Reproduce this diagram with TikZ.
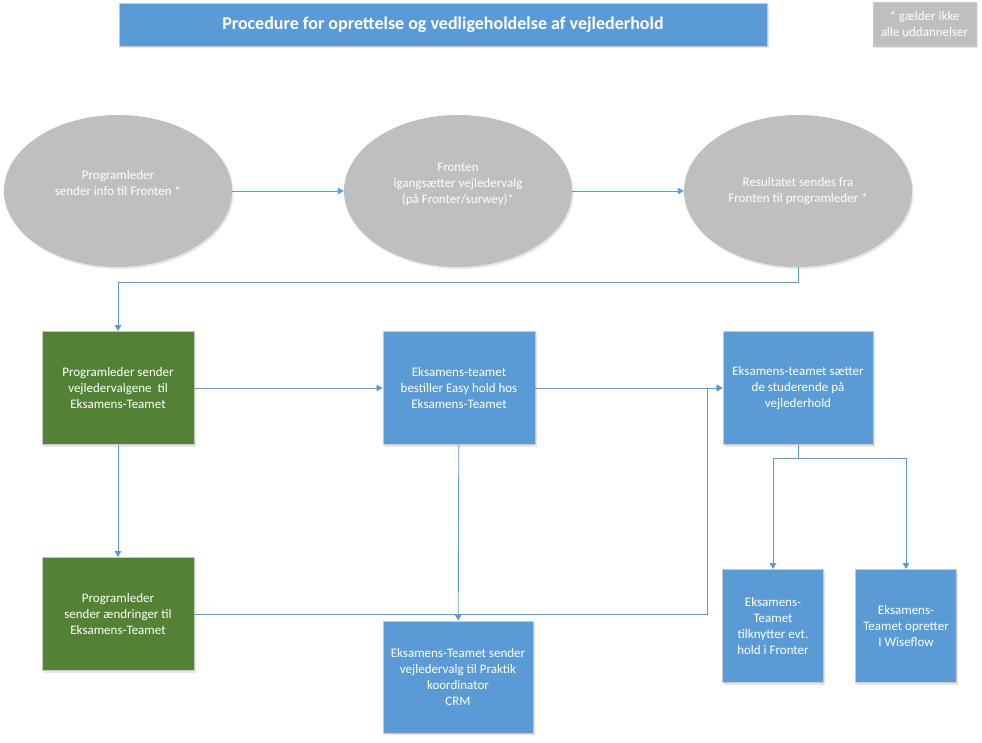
\documentclass[tikz,border=0pt]{standalone}
\usepackage{fontspec}
\setmainfont{Carlito}
\usetikzlibrary{shapes.geometric,arrows.meta,shadows}
\definecolor{boxblue}{HTML}{5B9BD5}
\definecolor{boxgreen}{HTML}{548235}
\definecolor{ovalgray}{HTML}{BFBFBF}
\definecolor{edgegray}{HTML}{C8C8C8}
\begin{document}
\begin{tikzpicture}[x=1pt,y=-1pt,
    font=\fontsize{13}{16}\selectfont,
    shade/.style={drop shadow={opacity=0.2,shadow xshift=1.5pt,shadow yshift=-2pt}},
    oval/.style={ellipse,fill=ovalgray,text=white,minimum width=228pt,minimum height=152pt,inner sep=0pt,align=center,shade},
    card/.style={rectangle,draw=edgegray,line width=0.8pt,text=white,inner sep=0pt,align=center,shade},
    bluebox/.style={card,fill=boxblue},
    greenbox/.style={card,fill=boxgreen,minimum width=152pt,minimum height=113pt},
    flow/.style={draw=boxblue,line width=0.9pt,-{Triangle[width=6.5pt,length=6pt]}}]
    \useasboundingbox (0,0) rectangle (982,742);
    % header
    \node[bluebox,minimum width=648pt,minimum height=43pt,font=\fontsize{18}{22}\selectfont\bfseries] (title) at (443,24.5) {Procedure for oprettelse og vedligeholdelse af vejlederhold};
    \node[card,fill=ovalgray,minimum width=103pt,minimum height=44pt] (note) at (924.5,24) {* gælder ikke\\alle uddannelser};
    % ovals
    \node[oval] (info) at (118,191) {Programleder\\sender info til Fronten *\\ \mbox{}};
    \node[oval] (start) at (458,191) {Fronten\\igangsætter vejledervalg\\(på Fronter/surwey)*\\ \mbox{}};
    \node[oval] (result) at (798,191) {Resultatet sendes fra\\Fronten til programleder *};
    % boxes
    \node[greenbox] (choice) at (118,388) {Programleder sender\\vejledervalgene~ til\\Eksamens-Teamet};
    \node[greenbox] (change) at (118,614) {Programleder\\sender ændringer til\\Eksamens-Teamet};
    \node[bluebox,minimum width=152pt,minimum height=113pt] (order) at (459,388) {Eksamens-teamet\\bestiller Easy hold hos\\Eksamens-Teamet};
    \node[bluebox,minimum width=150pt,minimum height=113pt] (assign) at (798,388) {Eksamens-teamet sætter\\de studerende på\\vejlederhold};
    \node[bluebox,minimum width=150pt,minimum height=112pt] (crm) at (458,677) {Eksamens-Teamet sender\\vejledervalg til Praktik\\koordinator\\CRM};
    \node[bluebox,minimum width=101pt,minimum height=113pt] (fronter) at (773,626) {Eksamens-\\Teamet\\tilknytter evt.\\hold i Fronter};
    \node[bluebox,minimum width=101pt,minimum height=113pt] (wiseflow) at (906,626) {Eksamens-\\Teamet opretter\\I Wiseflow};
    \coordinate (join) at (707,388);
    % connectors
    \draw[flow] (info) -- (start);
    \draw[flow] (start) -- (result);
    \draw[flow] (result.south) -- ++(0,15) -| (choice.north);
    \draw[flow] (choice) -- (order);
    \draw[flow] (choice) -- (change);
    \draw[flow] (order) -- (assign);
    \draw[flow] (change.east) -| (join) -- (assign.west);
    \draw[flow] (order) -- (crm);
    \draw[flow] (assign.south) -- ++(0,14) -| (fronter.north);
    \draw[flow] (assign.south) -- ++(0,14) -| (wiseflow.north);
\end{tikzpicture}
\end{document}
